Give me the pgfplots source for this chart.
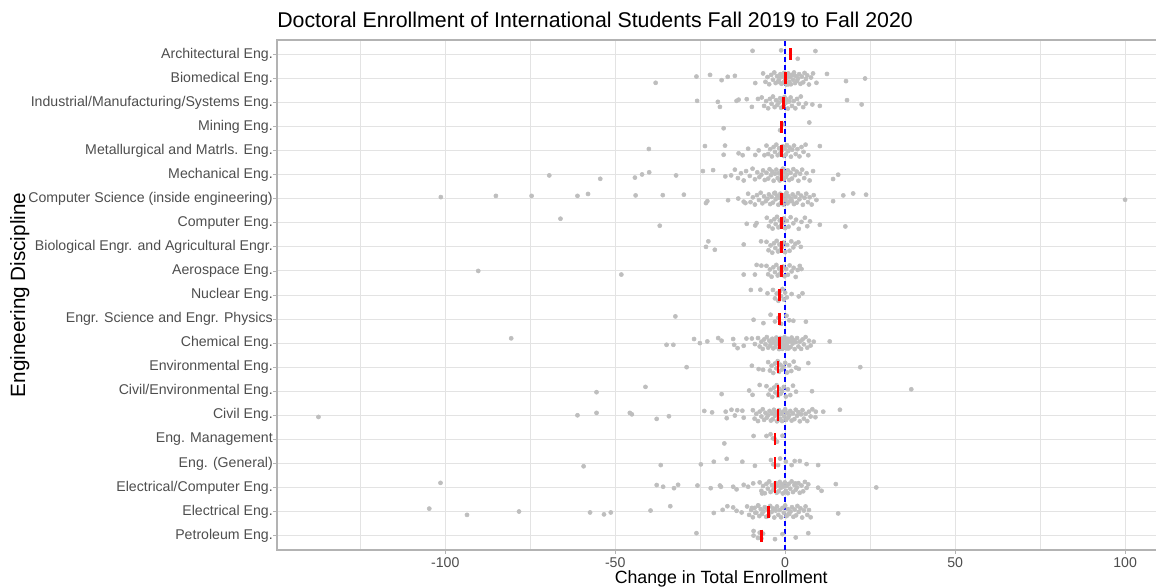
\documentclass[border=0pt]{standalone}
\usepackage{fontspec}
\setmainfont{Liberation Sans}
\usepackage{pgfplots}
\pgfplotsset{compat=1.18}
\definecolor{gridc}{HTML}{E3E3E3}
\definecolor{bordc}{HTML}{B3B3B3}
\definecolor{ptc}{HTML}{BEBEBE}
\definecolor{tickc}{HTML}{4D4D4D}
\begin{document}
\begin{tikzpicture}
\begin{axis}[
  name=ax,
  scale only axis,
  width=666.4pt, height=382.5pt,
  xmin=-149.5, xmax=111.9,
  ymin=0.4, ymax=21.6,
  xtick={-100,-50,0,50,100},
  minor xtick={-125,-75,-25,25,75},
  ytick={1,2,3,4,5,6,7,8,9,10,11,12,13,14,15,16,17,18,19,20,21},
  yticklabels={Petroleum Eng.,Electrical Eng.,Electrical/Computer Eng.,Eng. (General),Eng. Management,Civil Eng.,Civil/Environmental Eng.,Environmental Eng.,Chemical Eng.,Engr. Science and Engr. Physics,Nuclear Eng.,Aerospace Eng.,Biological Engr. and Agricultural Engr.,Computer Eng.,Computer Science (inside engineering),Mechanical Eng.,Metallurgical and Matrls. Eng.,Mining Eng.,Industrial/Manufacturing/Systems Eng.,Biomedical Eng.,Architectural Eng.},
  xmajorgrids, xminorgrids, ymajorgrids,
  major grid style={gridc, line width=0.7pt},
  minor grid style={gridc, line width=0.4pt},
  axis line style={bordc, line width=0.9pt},
  tick align=outside,
  tick pos=left,
  major tick length=3pt,
  minor tick length=0pt,
  tick style={bordc, line width=0.6pt},
  /pgf/number format/assume math mode=true,
  ticklabel style={font=\fontsize{10.6}{12}\selectfont, text=tickc},
  xticklabel style={anchor=base, yshift=-10pt},
  yticklabel style={anchor=east, inner sep=0pt, xshift=0pt},
  title={Doctoral Enrollment of International Students Fall 2019 to Fall 2020},
  title style={at={(rel axis cs:0,1)}, anchor=base west, inner sep=0pt, yshift=3pt, font=\fontsize{16}{19}\selectfont},
  xlabel={Change in Total Enrollment},
  xlabel style={at={(rel axis cs:0.5,0)}, anchor=base, inner sep=0pt, yshift=-25.5pt, font=\fontsize{13.3}{16}\selectfont},
  ylabel={Engineering Discipline},
  ylabel style={at={(rel axis cs:-0.2895,0.5)}, anchor=center, inner sep=0pt, font=\fontsize{15.5}{18}\selectfont},
]
\addplot[only marks, mark=*, mark size=1.55pt, color=ptc, mark options={draw=none, fill=ptc}] table {
x y
-9.6 21.15
-1.2 21.17
8.9 21.14
3.7 20.82
-38.1 19.82
-26.1 20.08
-22.1 20.15
-18.7 19.93
-16.9 20.07
-14.8 20.11
-8.8 19.81
9.2 19.82
12.3 20.19
17.9 19.89
23.5 20.0
-6.5 20.21
-5.8 19.86
-5.2 20.06
-4.7 19.76
-4.1 20.15
-3.6 19.95
-3.2 20.25
-2.8 19.81
-2.4 20.10
-2.0 19.90
-1.7 20.00
-1.4 20.18
-1.1 19.78
-0.8 20.08
-0.5 19.84
-0.3 20.23
0.0 19.98
0.2 20.13
0.4 19.75
0.7 20.04
0.9 20.21
1.2 19.86
1.5 20.06
1.7 19.76
2.0 20.15
2.3 19.95
2.6 20.25
2.9 19.81
3.2 20.10
3.5 19.90
3.8 20.00
4.1 20.18
4.5 19.78
4.9 20.08
5.3 19.84
5.7 20.23
6.1 19.98
6.5 20.13
7.0 19.75
7.6 20.04
8.2 20.21
-1.9 19.86
0.5 20.06
1.0 19.76
2.5 20.15
-25.9 19.07
-19.8 19.03
-19.2 18.82
-14.3 19.07
-13.7 19.12
-11.3 19.14
-9.8 18.82
-8.0 19.15
6.1 18.96
8.0 18.92
10.2 18.86
18.2 19.10
22.5 18.92
-6.9 19.21
-6.2 18.86
-5.6 19.06
-5.0 18.76
-4.5 19.15
-4.0 18.95
-3.6 19.25
-3.1 18.81
-2.7 19.10
-2.3 18.90
-1.9 19.00
-1.5 19.18
-1.2 18.78
-0.8 19.08
-0.5 18.84
-0.2 19.23
0.1 18.98
0.4 19.13
0.8 18.75
1.2 19.04
1.6 19.21
2.0 18.86
2.5 19.06
3.0 18.76
3.5 19.15
4.0 18.95
4.6 19.25
5.3 18.81
-18.1 17.93
-1.5 17.85
-0.7 18.10
7.1 18.17
-40.1 17.07
-23.6 17.19
-17.7 17.21
-18.1 16.83
-13.7 16.89
-12.5 16.81
-10.9 17.08
-8.8 16.82
-7.8 17.01
-6.1 16.81
10.2 17.19
-5.5 17.21
-5.0 16.86
-4.4 17.06
-3.9 16.76
-3.4 17.15
-3.0 16.95
-2.6 17.25
-2.2 16.81
-1.8 17.10
-1.4 16.90
-1.0 17.00
-0.7 17.18
-0.4 16.78
-0.1 17.08
0.2 16.84
0.5 17.23
0.9 16.98
1.3 17.13
1.7 16.75
2.1 17.04
2.6 17.21
3.1 16.86
3.6 17.06
4.2 16.76
4.8 17.15
5.4 16.95
6.0 17.25
6.8 16.81
-69.4 15.97
-54.4 15.83
-44.2 15.88
-42.1 16.01
-40.0 16.10
-32.1 15.97
-24.2 16.15
-21.2 16.19
-17.6 15.93
-15.9 15.97
14.1 15.82
15.6 16.0
-14.8 16.21
-13.9 15.86
-13.0 16.06
-12.2 15.76
-11.5 16.15
-10.4 15.95
-9.6 16.25
-8.9 15.81
-8.2 16.10
-7.6 15.90
-7.0 16.00
-6.5 16.18
-6.0 15.78
-5.5 16.08
-5.0 15.84
-4.6 16.23
-4.2 15.98
-3.8 16.13
-3.4 15.75
-3.0 16.04
-2.6 16.21
-2.2 15.86
-1.9 16.06
-1.6 15.76
-1.3 16.15
-1.0 15.95
-0.7 16.25
-0.4 15.81
-0.1 16.10
0.2 15.90
0.5 16.00
0.8 16.18
1.2 15.78
1.6 16.08
2.0 15.84
2.4 16.23
2.9 15.98
3.4 16.13
3.9 15.75
4.4 16.04
5.0 16.21
5.6 15.86
6.3 16.06
7.2 15.76
8.2 16.15
-101.3 15.07
-85.1 15.12
-74.6 15.12
-61.1 15.12
-58.0 15.20
-44.0 15.14
-36.0 15.15
-29.8 15.17
-22.9 14.90
-23.3 14.82
-16.8 14.94
-13.8 15.01
-12.2 14.88
-11.7 14.82
14.1 14.90
17.1 15.14
20.0 15.22
23.8 15.17
100.0 14.96
-10.9 15.21
-10.2 14.86
-9.5 15.06
-8.9 14.76
-8.3 15.15
-7.7 14.95
-7.2 15.25
-6.7 14.81
-6.2 15.10
-5.7 14.90
-5.2 15.00
-4.8 15.18
-4.4 14.78
-4.0 15.08
-3.6 14.84
-3.2 15.23
-2.8 14.98
-2.4 15.13
-2.0 14.75
-1.7 15.04
-1.4 15.21
-1.1 14.86
-0.8 15.06
-0.5 14.76
-0.2 15.15
0.1 14.95
0.4 15.25
0.7 14.81
1.0 15.10
1.4 14.90
1.8 15.00
2.2 15.18
2.6 14.78
3.0 15.08
3.4 14.84
3.8 15.23
4.2 14.98
4.7 15.13
5.2 14.75
5.7 15.04
6.2 15.21
6.7 14.86
7.2 15.06
7.8 14.76
8.4 15.15
9.2 14.95
-3.0 15.25
-1.0 14.81
0.5 15.10
2.0 14.90
-66.1 14.17
-36.9 13.88
-11.3 13.96
-8.8 13.89
-8.4 13.99
10.2 13.92
17.7 13.85
-5.4 14.21
-4.8 13.86
-4.2 14.06
-3.7 13.76
-3.2 14.15
-2.8 13.95
-2.4 14.25
-2.0 13.81
-1.6 14.10
-1.2 13.90
-0.8 14.00
-0.4 14.18
0.0 13.78
0.5 14.08
1.0 13.84
1.6 14.23
2.4 13.98
3.2 14.13
4.0 13.75
4.8 14.04
5.8 14.21
6.5 13.86
7.3 14.06
-22.6 13.23
-23.3 13.00
-20.7 12.88
-12.2 13.10
-7.1 13.23
3.9 13.19
4.6 13.00
-5.5 13.21
-4.9 12.86
-4.3 13.06
-3.8 12.76
-3.3 13.15
-2.9 12.95
-2.5 13.25
-2.1 12.81
-1.7 13.10
-1.3 12.90
-0.9 13.00
-0.5 13.18
0.0 12.78
0.6 13.08
1.3 12.84
1.8 13.23
2.4 12.98
3.0 13.13
-90.3 12.00
-48.2 11.85
-12.2 11.85
-8.9 11.85
-8.4 12.25
-7.0 12.22
4.8 12.08
-5.5 12.21
-5.0 11.86
-4.5 12.06
-4.0 11.76
-3.5 12.15
-3.0 11.95
-2.6 12.25
-2.2 11.81
-1.8 12.10
-1.4 11.90
-1.0 12.00
-0.6 12.18
-0.2 11.78
0.3 12.08
0.8 11.84
1.3 12.23
1.9 11.98
2.5 12.13
3.1 11.75
3.7 12.04
4.3 12.21
-10.1 11.21
-7.3 11.22
-5.2 11.07
1.9 11.04
4.0 10.94
5.1 11.07
-3.6 11.21
-3.0 10.86
-2.5 11.06
-2.0 10.76
-1.6 11.15
-1.2 10.95
-0.8 11.25
-0.4 10.81
0.0 11.10
0.5 10.90
-32.3 10.11
-9.3 9.97
-6.4 9.83
-4.3 10.18
-3.0 9.90
-2.0 10.05
-1.2 9.80
0.4 10.14
1.2 9.95
2.4 9.93
6.1 9.89
-80.6 9.20
-34.9 8.93
-32.9 8.93
-26.8 9.17
-25.1 9.00
-22.9 9.07
-19.7 9.21
-18.7 9.10
-15.3 9.17
-15.0 8.93
-14.0 8.79
-11.4 9.19
-12.2 8.89
-9.8 9.19
-8.9 8.96
8.4 9.06
13.1 9.07
-8.0 9.21
-7.5 8.86
-7.0 9.06
-6.6 8.76
-6.2 9.15
-5.8 8.95
-5.4 9.25
-5.0 8.81
-4.7 9.10
-4.4 8.90
-4.1 9.00
-3.8 9.18
-3.5 8.78
-3.2 9.08
-2.9 8.84
-2.6 9.23
-2.3 8.98
-2.0 9.13
-1.8 8.75
-1.6 9.04
-1.4 9.21
-1.2 8.86
-1.0 9.06
-0.8 8.76
-0.6 9.15
-0.4 8.95
-0.2 9.25
0.0 8.81
0.2 9.10
0.4 8.90
0.6 9.00
0.8 9.18
1.0 8.78
1.3 9.08
1.6 8.84
1.9 9.23
2.2 8.98
2.5 9.13
2.8 8.75
3.1 9.04
3.5 9.21
3.9 8.86
4.3 9.06
4.7 8.76
5.1 9.15
5.5 8.95
6.0 9.25
6.5 8.81
7.0 9.10
7.5 8.90
-3.0 9.00
-1.5 9.18
0.5 8.78
2.0 9.08
-29.0 8.00
-9.8 8.06
-7.8 7.92
-6.5 7.89
4.0 7.93
6.8 8.17
22.1 8.00
-5.0 8.21
-4.5 7.86
-4.0 8.06
-3.5 7.76
-3.0 8.15
-2.6 7.95
-2.2 8.25
-1.8 7.81
-1.4 8.10
-1.0 7.90
-0.5 8.00
0.0 8.18
0.6 7.78
1.2 8.08
1.8 7.84
2.5 8.23
3.2 7.98
-55.5 6.96
-41.1 7.18
-18.7 6.88
-10.6 7.03
-9.6 6.85
-7.5 7.26
7.9 7.00
37.1 7.08
-5.5 7.21
-4.9 6.86
-4.3 7.06
-3.8 6.76
-3.3 7.15
-2.9 6.95
-2.5 7.25
-2.1 6.81
-1.7 7.10
-1.3 6.90
-0.9 7.00
-0.4 7.18
0.2 6.78
0.8 7.08
1.5 6.84
2.3 7.23
3.2 6.98
-137.3 5.93
-61.1 6.00
-55.5 6.10
-45.7 6.10
-45.1 6.04
-37.8 5.85
-34.2 5.96
-23.8 6.18
-21.5 6.12
-17.5 6.15
-17.2 5.88
-15.8 6.23
-14.8 5.99
-14.1 6.21
-12.6 6.19
-12.2 5.90
9.0 6.15
8.9 5.92
11.2 6.15
16.1 6.23
-9.5 6.21
-9.0 5.86
-8.5 6.06
-8.0 5.76
-7.5 6.15
-7.0 5.95
-6.6 6.25
-6.2 5.81
-5.8 6.10
-5.4 5.90
-5.0 6.00
-4.6 6.18
-4.2 5.78
-3.9 6.08
-3.6 5.84
-3.3 6.23
-3.0 5.98
-2.7 6.13
-2.4 5.75
-2.1 6.04
-1.8 6.21
-1.5 5.86
-1.2 6.06
-0.9 5.76
-0.6 6.15
-0.3 5.95
0.0 6.25
0.3 5.81
0.6 6.10
0.9 5.90
1.2 6.00
1.5 6.18
1.9 5.78
2.3 6.08
2.7 5.84
3.1 6.23
3.5 5.98
3.9 6.13
4.3 5.75
4.7 6.04
5.1 6.21
5.5 5.86
6.0 6.06
6.5 5.76
7.0 6.15
7.5 5.95
8.0 6.25
-2.0 5.81
0.5 6.10
-17.9 4.83
-9.3 5.14
-5.5 5.14
-4.3 5.21
-3.6 5.04
-3.0 5.00
-2.4 4.90
-0.8 5.15
-59.3 3.88
-36.6 3.93
-24.8 3.96
-21.0 4.07
-17.2 4.19
-12.6 4.07
-8.9 3.90
-4.2 4.14
-3.5 3.96
-2.1 3.93
-1.5 4.20
0.2 4.07
1.9 3.93
2.8 4.10
4.3 4.10
6.3 3.97
9.7 3.93
-101.4 3.19
-37.8 3.10
-35.9 3.03
-32.7 2.97
-31.5 3.11
-25.8 3.08
-21.9 2.97
-19.2 3.08
-18.9 3.03
-15.3 3.03
-14.3 2.92
-12.2 3.11
-10.9 3.03
-9.4 3.17
9.7 2.99
10.7 2.86
14.9 3.14
26.8 3.00
-7.5 3.21
-7.0 2.86
-6.5 3.06
-6.0 2.76
-5.5 3.15
-5.1 2.95
-4.7 3.25
-4.3 2.81
-3.9 3.10
-3.5 2.90
-3.1 3.00
-2.8 3.18
-2.5 2.78
-2.2 3.08
-1.9 2.84
-1.6 3.23
-1.3 2.98
-1.0 3.13
-0.7 2.75
-0.4 3.04
-0.1 3.21
0.2 2.86
0.5 3.06
0.8 2.76
1.1 3.15
1.5 2.95
1.9 3.25
2.3 2.81
2.7 3.10
3.1 2.90
3.5 3.00
3.9 3.18
4.3 2.78
4.8 3.08
5.3 2.84
5.8 3.23
6.3 2.98
6.8 3.13
-6.8 2.75
-3.0 3.04
0.0 2.81
3.0 3.17
-104.7 2.12
-93.6 1.86
-78.3 2.00
-57.4 1.96
-53.3 1.88
-51.3 1.96
-39.6 2.04
-33.8 2.22
-21.0 1.94
-18.4 2.07
-17.0 2.22
-15.3 2.17
-14.3 2.03
-12.8 1.96
15.6 1.92
-11.2 2.21
-10.6 1.86
-10.0 2.06
-9.5 1.76
-9.0 2.15
-8.5 1.95
-8.0 2.25
-7.6 1.81
-7.2 2.10
-6.8 1.90
-6.4 2.00
-6.0 2.18
-5.6 1.78
-5.2 2.08
-4.8 1.84
-4.4 2.23
-4.0 1.98
-3.6 2.13
-3.2 1.75
-2.8 2.04
-2.4 2.21
-2.0 1.86
-1.6 2.06
-1.2 1.76
-0.8 2.15
-0.4 1.95
0.0 2.25
0.4 1.81
0.8 2.10
1.2 1.90
1.6 2.00
2.0 2.18
2.4 1.78
2.8 2.08
3.2 1.84
3.6 2.23
4.0 1.98
4.5 2.13
5.0 1.75
5.5 2.04
6.0 2.21
6.5 1.86
7.0 2.06
7.5 1.76
-9.8 2.15
-8.8 1.95
-7.9 2.25
-5.0 1.81
-3.0 2.10
1.0 1.90
-26.1 1.10
-9.3 1.19
-9.3 1.00
-8.0 0.90
-7.5 1.12
-7.0 0.88
-6.5 1.08
-3.0 0.85
-0.8 1.06
3.1 0.92
6.8 1.10
};
\addplot[only marks, mark=|, mark size=4.5pt, color=red, mark options={line width=2pt}] coordinates {
(1.5,21) (0,20) (-0.5,19) (-1.1,18) (-1.1,17) (-1.1,16) (-1.1,15) (-1.1,14) (-1.1,13) (-1.1,12) (-1.6,11) (-1.6,10) (-1.6,9) (-2.1,8) (-2.1,7) (-2.1,6) (-3.0,5) (-3.0,4) (-3.0,3) (-5.0,2) (-7.0,1)
};
\addplot[blue, line width=1.1pt, dash pattern=on 3.5pt off 2.5pt, mark=none] coordinates {(0,0.4) (0,21.6)};
\end{axis}
\path (ax.south west) ++(-207.75pt,-28.5pt) coordinate (bl) ++(867pt,441pt) coordinate (tr);
\pgfresetboundingbox
\useasboundingbox (bl) rectangle (tr);
\end{tikzpicture}
\end{document}
